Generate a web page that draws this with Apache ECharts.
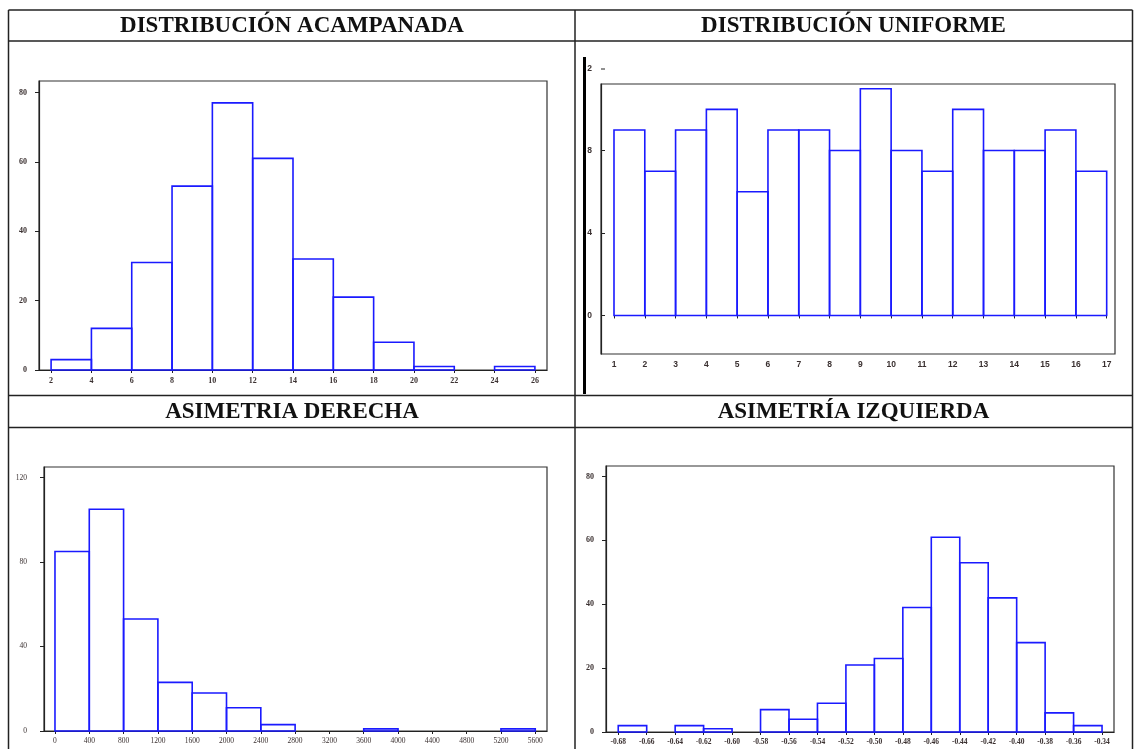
<!DOCTYPE html>
<html>
<head>
<meta charset="utf-8">
<script src="https://cdn.jsdelivr.net/npm/echarts@6/dist/echarts.min.js"></script>
<style>
html,body{margin:0;padding:0;background:#fff;}
#c{width:1134px;height:749px;}
</style>
</head>
<body>
<div id="c"></div>
<script>
// ---- data ----
const titles = ['DISTRIBUCIÓN ACAMPANADA', 'DISTRIBUCIÓN UNIFORME', 'ASIMETRIA DERECHA', 'ASIMETRÍA IZQUIERDA'];

const edgesA = [2, 4, 6, 8, 10, 12, 14, 16, 18, 20, 22, 24, 26];
const countsA = [3, 12, 31, 53, 77, 61, 32, 21, 8, 1, 0, 1];
const xTicksA = [2, 4, 6, 8, 10, 12, 14, 16, 18, 20, 22, 24, 26];
const yTicksA = [0, 20, 40, 60, 80];

const edgesB = [1, 2, 3, 4, 5, 6, 7, 8, 9, 10, 11, 12, 13, 14, 15, 16, 17];
const countsB = [9, 7, 9, 10, 6, 9, 9, 8, 11, 8, 7, 10, 8, 8, 9, 7];
const xTicksB = [1, 2, 3, 4, 5, 6, 7, 8, 9, 10, 11, 12, 13, 14, 15, 16, 17];
const yTicksB = [0, 4, 8];
const yTopLabelB = '2';

const edgesC = [0, 400, 800, 1200, 1600, 2000, 2400, 2800, 3200, 3600, 4000, 4400, 4800, 5200, 5600];
const countsC = [85, 105, 53, 23, 18, 11, 3, 0, 0, 1, 0, 0, 0, 1];
const xTicksC = [0, 400, 800, 1200, 1600, 2000, 2400, 2800, 3200, 3600, 4000, 4400, 4800, 5200, 5600];
const yTicksC = [0, 40, 80, 120];

const edgesD = [-0.68, -0.66, -0.64, -0.62, -0.60, -0.58, -0.56, -0.54, -0.52, -0.50, -0.48, -0.46, -0.44, -0.42, -0.40, -0.38, -0.36, -0.34];
const countsD = [2, 0, 2, 1, 0, 7, 4, 9, 21, 23, 39, 61, 53, 42, 28, 6, 2];
const xTicksD = [-0.68, -0.66, -0.64, -0.62, -0.60, -0.58, -0.56, -0.54, -0.52, -0.50, -0.48, -0.46, -0.44, -0.42, -0.40, -0.38, -0.36, -0.34];
const yTicksD = [0, 20, 40, 60, 80];

// ---- build ----
function binData(edges, counts) {
  const out = [];
  for (let i = 0; i < counts.length; i++) {
    if (counts[i] > 0) out.push([edges[i], edges[i + 1], counts[i]]);
  }
  return out;
}
function renderItem(params, api) {
  const p0 = api.coord([api.value(0), 0]);
  const p1 = api.coord([api.value(1), api.value(2)]);
  return {
    type: 'rect',
    shape: { x: p0[0], y: p1[1], width: p1[0] - p0[0], height: p0[1] - p1[1] },
    style: { fill: 'none', stroke: '#1a1aff', lineWidth: 1.6 }
  };
}
const serif = '"Liberation Serif", "DejaVu Serif", serif';
const sans = '"Liberation Sans", Arial, sans-serif';
const plain = function (v) { return String(v); };

function xAx(gi, min, max, ticks, font, size, margin, fmt, weight, lineShow) {
  return {
    type: 'value', gridIndex: gi, min: min, max: max,
    splitLine: { show: false },
    axisLine: { show: true, onZero: true, lineStyle: { color: '#222', width: 1.2, opacity: lineShow ? 1 : 0 } },
    axisTick: { show: true, length: 3, customValues: ticks, lineStyle: { color: '#222' } },
    axisLabel: { customValues: ticks, fontFamily: font, fontSize: size, fontWeight: weight, color: '#3a3030', margin: margin, formatter: fmt }
  };
}
function yAx(gi, min, max, ticks, font, size, margin, inside, weight) {
  return {
    type: 'value', gridIndex: gi, min: min, max: max,
    splitLine: { show: false },
    axisLine: { show: true, onZero: false, lineStyle: { color: '#222', width: 1.2 } },
    axisTick: { show: true, length: 4, inside: inside, customValues: ticks, lineStyle: { color: '#222' } },
    axisLabel: { customValues: ticks, fontFamily: font, fontSize: size, fontWeight: weight, color: '#3a3030', margin: margin, formatter: plain }
  };
}

const gridStyle = { show: true, borderColor: '#333', borderWidth: 1.2, backgroundColor: '#fff' };
const lineCol = '#222';
function hline(x1, x2, y, w) { return { type: 'line', shape: { x1: x1, y1: y, x2: x2, y2: y }, style: { stroke: lineCol, lineWidth: w || 1.5 }, z: 100 }; }
function vline(x, y1, y2, w) { return { type: 'line', shape: { x1: x, y1: y1, x2: x, y2: y2 }, style: { stroke: lineCol, lineWidth: w || 1.5 }, z: 100 }; }
function titleText(t, x, y) {
  return { type: 'text', x: x, y: y, style: { text: t, font: 'bold 23px ' + serif, fill: '#111', textAlign: 'center', textVerticalAlign: 'middle' }, z: 100 };
}

const option = {
  animation: false,
  backgroundColor: '#fff',
  grid: [
    Object.assign({ left: 39, top: 81, width: 508, height: 289 }, gridStyle),
    Object.assign({ left: 601, top: 84, width: 514, height: 270 }, gridStyle),
    Object.assign({ left: 44, top: 467, width: 503, height: 264 }, gridStyle),
    Object.assign({ left: 606, top: 466, width: 508, height: 266 }, gridStyle)
  ],
  xAxis: [
    xAx(0, 1.4, 26.6, xTicksA, serif, 8, 7, plain, 'bold', true),
    xAx(1, 0.578, 17.27, xTicksB, sans, 8.5, 6, plain, 'bold', false),
    xAx(2, -128, 5737, xTicksC, serif, 7.5, 6, plain, 'normal', true),
    xAx(3, -0.6886, -0.3316, xTicksD, serif, 7.5, 6, function (v) { return v.toFixed(2); }, 'bold', true)
  ],
  yAxis: [
    yAx(0, 0, 83.3, yTicksA, serif, 8, 12, false, 'bold'),
    yAx(1, -1.87, 11.23, yTicksB, sans, 8.5, 9, true, 'bold'),
    yAx(2, 0, 125, yTicksC, serif, 7.5, 17, false, 'normal'),
    yAx(3, 0, 83.3, yTicksD, serif, 8, 12, false, 'bold')
  ],
  series: [
    { type: 'custom', xAxisIndex: 0, yAxisIndex: 0, renderItem: renderItem, data: binData(edgesA, countsA), clip: false },
    { type: 'custom', xAxisIndex: 1, yAxisIndex: 1, renderItem: renderItem, data: binData(edgesB, countsB), clip: false },
    { type: 'custom', xAxisIndex: 2, yAxisIndex: 2, renderItem: renderItem, data: binData(edgesC, countsC), clip: false },
    { type: 'custom', xAxisIndex: 3, yAxisIndex: 3, renderItem: renderItem, data: binData(edgesD, countsD), clip: false }
  ],
  graphic: [
    hline(8.5, 1132.5, 10),
    hline(8.5, 1132.5, 41),
    hline(8.5, 1132.5, 395.5),
    hline(8.5, 1132.5, 427.5),
    vline(8.5, 10, 749),
    vline(575, 10, 749),
    vline(1132.5, 10, 749),
    { type: 'rect', shape: { x: 583, y: 57, width: 3, height: 337 }, style: { fill: '#000' }, z: 100 },
    { type: 'text', x: 592, y: 69, style: { text: yTopLabelB, font: 'bold 8.5px ' + sans, fill: '#3a3030', textAlign: 'right', textVerticalAlign: 'middle' }, z: 100 },
    { type: 'line', shape: { x1: 601, y1: 69, x2: 605, y2: 69 }, style: { stroke: '#222', lineWidth: 1 }, z: 100 },
    titleText(titles[0], 292, 26),
    titleText(titles[1], 853.5, 26),
    titleText(titles[2], 292, 412),
    titleText(titles[3], 853.5, 412)
  ]
};

const chart = echarts.init(document.getElementById('c'), null, { renderer: 'canvas' });
chart.setOption(option);
</script>
</body>
</html>
